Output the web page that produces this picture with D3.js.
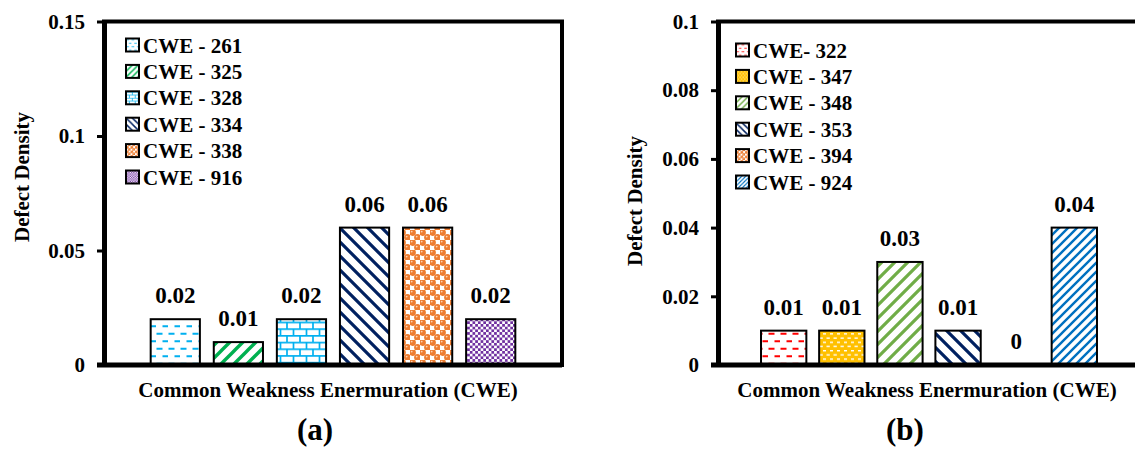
<!DOCTYPE html>
<html>
<head>
<meta charset="utf-8">
<script src="https://cdn.jsdelivr.net/npm/d3@7"></script>
<style>
  body { margin: 0; background: #fff; }
  svg text { font-family: "Liberation Serif", "Times New Roman", serif; font-weight: bold; fill: #000; }
</style>
</head>
<body>
<svg id="chart" width="1135" height="451"></svg>
<script>
// panel (a) data
const cweA = ["CWE - 261", "CWE - 325", "CWE - 328", "CWE - 334", "CWE - 338", "CWE - 916"];
const densityA = [0.02, 0.01, 0.02, 0.06, 0.06, 0.02];
const ticksA = [0, 0.05, 0.1, 0.15];

// panel (b) data
const cweB = ["CWE- 322", "CWE - 347", "CWE - 348", "CWE - 353", "CWE - 394", "CWE - 924"];
const densityB = [0.01, 0.01, 0.03, 0.01, 0, 0.04];
const ticksB = [0, 0.02, 0.04, 0.06, 0.08, 0.1];

const xTitle = "Common Weakness Enermuration (CWE)";
const yTitle = "Defect Density";
const serif = "'Liberation Serif', 'Times New Roman', serif";

const svg = d3.select("#chart");
svg.append("rect").attr("width", 1135).attr("height", 451).attr("fill", "#fff");
const defs = svg.append("defs");

// excel-like fill patterns
function tile(id, w, h, bg) {
  const p = defs.append("pattern")
    .attr("id", id)
    .attr("patternUnits", "userSpaceOnUse")
    .attr("width", w)
    .attr("height", h);
  p.append("rect").attr("width", w).attr("height", h).attr("fill", bg);
  return p;
}

function dashPattern(id, color) {
  const p = tile(id, 12, 15, "#fff");
  p.append("path")
    .attr("d", "M0.5,3.75H6.5M6.5,11.25H12")
    .attr("stroke", color)
    .attr("stroke-width", 1.8);
}

function stripePattern(id, color, s, sw, up) {
  const p = tile(id, s, s, "#fff");
  const d = up
    ? `M0,${s}L${s},0M${-s / 2},${s / 2}L${s / 2},${-s / 2}M${s / 2},${s * 1.5}L${s * 1.5},${s / 2}`
    : `M0,0L${s},${s}M${-s / 2},${s / 2}L${s / 2},${s * 1.5}M${s / 2},${-s / 2}L${s * 1.5},${s / 2}`;
  p.append("path").attr("d", d).attr("stroke", color).attr("stroke-width", sw);
}

function brickPattern(id, color) {
  const p = tile(id, 13, 13.4, "#fff");
  p.append("path")
    .attr("d", "M0,0.8H13M0,7.5H13M1,0.8V7.5M7.5,7.5V13.4")
    .attr("stroke", color)
    .attr("stroke-width", 1.7)
    .attr("fill", "none");
}

function spherePattern(id, color) {
  const p = tile(id, 10, 10, "#fff");
  [[2.5, 2.5], [7.5, 7.5]].forEach(([cx, cy]) => {
    p.append("circle").attr("cx", cx).attr("cy", cy).attr("r", 3.4).attr("fill", color);
    p.append("circle").attr("cx", cx - 0.8).attr("cy", cy - 0.9).attr("r", 0.9).attr("fill", "#fbd3b4");
  });
}

function checkerPattern(id, color) {
  const c = 2.7;
  const p = tile(id, c * 2, c * 2, "#fff");
  p.append("rect").attr("width", c).attr("height", c).attr("fill", color);
  p.append("rect").attr("x", c).attr("y", c).attr("width", c).attr("height", c).attr("fill", color);
}

function goldPattern(id, color) {
  const p = tile(id, 7, 8.4, color);
  p.append("path")
    .attr("d", "M0.5,2.1H3.8M4,6.3H7")
    .attr("stroke", "#fff")
    .attr("stroke-width", 1.3);
}

dashPattern("p261", "#00B0F0");
stripePattern("p325", "#00B050", 13, 3.4, true);
brickPattern("p328", "#00B0F0");
stripePattern("p334", "#002060", 14, 3.2, false);
spherePattern("p338", "#ED7D31");
checkerPattern("p916", "#7030A0");

dashPattern("p322", "#FF0000");
goldPattern("p347", "#FFC000");
stripePattern("p348", "#70AD47", 13, 3.2, true);
stripePattern("p353", "#002060", 14, 3.2, false);
spherePattern("p394", "#ED7D31");
stripePattern("p924", "#0070C0", 9, 2.4, true);

// smaller copies for the legend keys
defs.selectAll("pattern").each(function () {
  const c = this.cloneNode(true);
  c.setAttribute("id", this.id + "s");
  c.setAttribute("patternTransform", "scale(0.45)");
  defs.node().appendChild(c);
});

const fillsA = ["p261", "p325", "p328", "p334", "p338", "p916"];
const fillsB = ["p322", "p347", "p348", "p353", "p394", "p924"];

const yTop = 21.5;
const yBottom = 365;

function drawPanel(cfg) {
  const g = svg.append("g");

  const x = d3.scaleBand()
    .domain(cfg.names)
    .range([cfg.x0, cfg.x1])
    .paddingInner(0.22)
    .paddingOuter(0.74);

  const y = d3.scaleLinear()
    .domain([0, d3.max(cfg.ticks)])
    .range([yBottom, yTop]);

  // frame
  g.append("rect")
    .attr("x", cfg.x0)
    .attr("y", yTop)
    .attr("width", cfg.x1 - cfg.x0)
    .attr("height", yBottom - yTop)
    .attr("fill", "none")
    .attr("stroke", "#000")
    .attr("stroke-width", 4);

  // bars
  g.selectAll(".bar")
    .data(cfg.values)
    .enter()
    .append("rect")
    .attr("class", "bar")
    .attr("x", (d, i) => x(cfg.names[i]))
    .attr("y", d => y(d))
    .attr("width", x.bandwidth())
    .attr("height", d => yBottom - y(d))
    .attr("fill", (d, i) => `url(#${cfg.fills[i]})`)
    .attr("stroke", "#000")
    .attr("stroke-width", d => d > 0 ? 2 : 0);

  // value labels
  g.selectAll(".val")
    .data(cfg.values)
    .enter()
    .append("text")
    .attr("x", (d, i) => x(cfg.names[i]) + x.bandwidth() / 2)
    .attr("y", d => y(d) - 16)
    .attr("text-anchor", "middle")
    .style("font-family", serif)
    .style("font-size", "23px")
    .text(d => String(d));

  // y axis
  const yAxis = g.append("g")
    .attr("transform", `translate(${cfg.x0},0)`)
    .call(d3.axisLeft(y)
      .tickValues(cfg.ticks)
      .tickSize(7)
      .tickSizeOuter(0)
      .tickPadding(12)
      .tickFormat(d => String(d)));
  yAxis.select(".domain").attr("stroke-width", 5);
  yAxis.selectAll(".tick line").attr("stroke-width", 3);
  yAxis.selectAll(".tick text")
    .style("font-family", serif)
    .style("font-size", "21px");

  // x axis line
  g.append("line")
    .attr("x1", cfg.x0 - 7)
    .attr("x2", cfg.x1)
    .attr("y1", yBottom)
    .attr("y2", yBottom)
    .attr("stroke", "#000")
    .attr("stroke-width", 5);

  // legend
  const leg = g.selectAll(".leg")
    .data(cfg.names)
    .enter()
    .append("g")
    .attr("transform", (d, i) => `translate(${cfg.legendX},${cfg.legendY + i * 26.4})`);
  leg.append("rect")
    .attr("x", 0)
    .attr("y", -6.5)
    .attr("width", 13)
    .attr("height", 13)
    .attr("fill", (d, i) => `url(#${cfg.fills[i]}s)`)
    .attr("stroke", "#000")
    .attr("stroke-width", 2);
  leg.append("text")
    .attr("x", 17)
    .attr("y", 7.5)
    .style("font-family", serif)
    .style("font-size", "21px")
    .text(d => d);

  // titles
  g.append("text")
    .attr("x", cfg.titleX)
    .attr("y", 397)
    .attr("text-anchor", "middle")
    .style("font-family", serif)
    .style("font-size", "21px")
    .text(xTitle);

  g.append("text")
    .attr("transform", `translate(${cfg.yTitleX},${cfg.yTitleY}) rotate(-90)`)
    .attr("text-anchor", "middle")
    .attr("dy", "0.35em")
    .style("font-family", serif)
    .style("font-size", "21px")
    .text(yTitle);

  g.append("text")
    .attr("x", cfg.tagX)
    .attr("y", 440)
    .attr("text-anchor", "middle")
    .style("font-family", serif)
    .style("font-size", "31px")
    .text(cfg.tag);
}

drawPanel({
  x0: 104, x1: 562,
  names: cweA, values: densityA, ticks: ticksA, fills: fillsA,
  legendX: 126, legendY: 45,
  titleX: 328, yTitleX: 22, yTitleY: 177,
  tag: "(a)", tagX: 315
});

drawPanel({
  x0: 718, x1: 1140,
  names: cweB, values: densityB, ticks: ticksB, fills: fillsB,
  legendX: 736, legendY: 50,
  titleX: 927, yTitleX: 635, yTitleY: 201,
  tag: "(b)", tagX: 905
});
</script>
</body>
</html>
